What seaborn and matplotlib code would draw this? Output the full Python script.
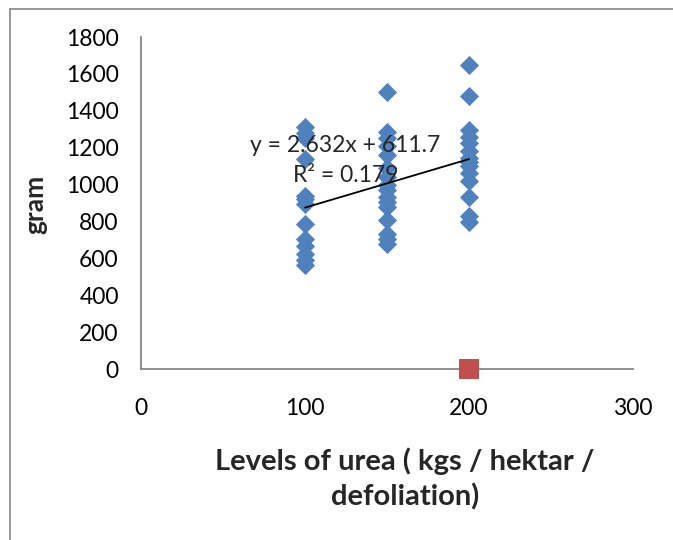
import numpy as np
import pandas as pd
import matplotlib
matplotlib.use("Agg")
import matplotlib.pyplot as plt
import seaborn as sns

# values
urea_100 = [1310, 1280, 1250, 1140, 940, 920, 895, 785, 705, 665, 625, 590, 565]
urea_150 = [1500, 1285, 1255, 1210, 1160, 1090, 1040, 1000, 970, 935, 905, 880,
            810, 730, 705, 680]
urea_200 = [1650, 1480, 1295, 1260, 1225, 1180, 1145, 1120, 1100, 1065, 1020, 935,
            830, 795]
second_x = [200]
second_y = [0]
slope = 2.632
intercept = 611.7
r_squared = 0.179
x_ticks = [0, 100, 200, 300]
y_ticks = [0, 200, 400, 600, 800, 1000, 1200, 1400, 1600, 1800]

df = pd.DataFrame({
    "level": [100] * len(urea_100) + [150] * len(urea_150) + [200] * len(urea_200),
    "gram": urea_100 + urea_150 + urea_200,
})

sns.set_style("white")
plt.rcParams["font.family"] = ["Lato", "DejaVu Sans"]

fig = plt.figure(figsize=(6.73, 5.40), dpi=100)
ax = fig.add_axes([141 / 673, 1 - 369 / 540, (633 - 141) / 673, (369 - 37) / 540])

blue = "#4F81BD"
red = "#C0504D"
grey = "#868686"

sns.scatterplot(data=df, x="level", y="gram", marker="D", s=95, color=blue,
                edgecolor=blue, linewidth=0, ax=ax, zorder=3, clip_on=False)
sns.scatterplot(x=second_x, y=second_y, marker="s", s=210, color=red,
                edgecolor=red, linewidth=0, ax=ax, zorder=4, clip_on=False)

# linear trendline from the equation shown on the chart
tx = np.array([min(df["level"]), max(df["level"])])
ax.plot(tx, slope * tx + intercept, color="black", lw=1.3, zorder=5)

ax.text(124.5, 1210, f"y = {slope}x + {intercept}", ha="center", va="center",
        fontsize=16.5, zorder=6)
ax.text(125, 1050, f"R² = {r_squared}", ha="center", va="center",
        fontsize=16.5, zorder=6)

ax.set_xlim(0, 300)
ax.set_ylim(0, 1800)
ax.set_xticks(x_ticks)
ax.set_yticks(y_ticks)
ax.tick_params(axis="both", labelsize=16.5, colors="black", length=6, width=1.2,
               direction="out")
ax.tick_params(axis="x", color=grey, pad=15)
ax.tick_params(axis="y", color=grey, pad=10)
for side in ["top", "right"]:
    ax.spines[side].set_visible(False)
for side in ["left", "bottom"]:
    ax.spines[side].set_color(grey)
    ax.spines[side].set_linewidth(1.3)
ax.set_facecolor("none")
ax.grid(False)

ax.set_xlabel("Levels of urea ( kgs / hektar /\ndefoliation)", fontsize=21,
              fontweight="bold", linespacing=1.4)
ax.set_ylabel("gram", fontsize=19, fontweight="bold")
ax.xaxis.set_label_coords((405 - 141) / (633 - 141), -(447 - 369) / (369 - 37))
ax.xaxis.label.set_va("top")
ax.yaxis.set_label_coords(-(141 - 35) / (633 - 141), (369 - 204) / (369 - 37))
ax.yaxis.label.set_va("center")

# chart area border (left and top edges visible in the reference)
fig.add_artist(plt.Line2D([10 / 673, 10 / 673], [0, 1 - 9 / 540], color=grey, lw=1.2))
fig.add_artist(plt.Line2D([10 / 673, 1], [1 - 9 / 540, 1 - 9 / 540], color=grey, lw=1.2))

fig.savefig("out.png", dpi=100, facecolor="white")
